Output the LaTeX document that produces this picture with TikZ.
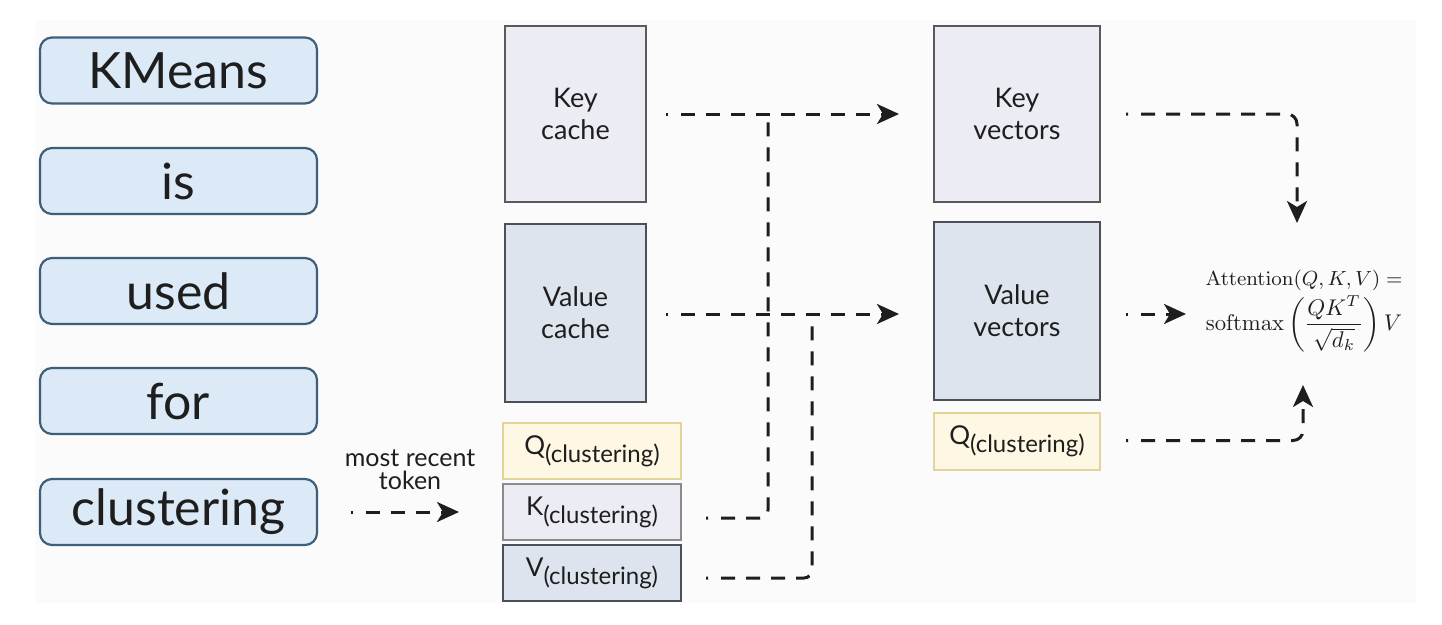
\documentclass[tikz,border=0pt]{standalone}
\usepackage[no-math]{fontspec}
\setmainfont{Lato}
\usetikzlibrary{arrows.meta}
\definecolor{wordfill}{HTML}{DCE9F6}
\definecolor{worddraw}{HTML}{3F5F78}
\definecolor{kfill}{HTML}{ECECF5}
\definecolor{kdraw}{HTML}{5A5A5E}
\definecolor{vfill}{HTML}{DEE4ED}
\definecolor{vdraw}{HTML}{4A4F58}
\definecolor{qfill}{HTML}{FDF7E3}
\definecolor{qdraw}{HTML}{E2D59A}
\definecolor{ink}{HTML}{1E1E1E}
\definecolor{panel}{HTML}{FBFBFC}
\tikzset{
  wordbox/.style={draw=worddraw, fill=wordfill, line width=2.2pt, rounded corners=12pt,
    minimum width=277pt, minimum height=66pt, font=\fontsize{50}{54}\selectfont, text=ink},
  kbox/.style={draw=kdraw, fill=kfill, line width=2pt, font=\fontsize{27}{32}\selectfont, align=center, text=ink},
  vbox/.style={draw=vdraw, fill=vfill, line width=2pt, font=\fontsize{27}{32}\selectfont, align=center, text=ink},
  qbox/.style={draw=qdraw, fill=qfill, line width=2pt, text=ink},
  dl/.style={draw=ink, line width=3pt,
    dash pattern=on 2pt off 13pt on 14pt off 11pt on 14pt off 11pt on 14pt off 11pt on 14pt off 11pt on 14pt off 11pt on 14pt off 11pt on 14pt off 11pt on 14pt off 11pt on 14pt off 11pt on 14pt off 11pt on 14pt off 11pt on 14pt off 11pt on 14pt off 11pt on 14pt off 11pt on 14pt off 11pt on 14pt off 11pt on 14pt off 11pt on 14pt off 11pt on 14pt off 11pt on 14pt off 11pt},
  arr/.style={dl, -{Stealth[length=22pt,width=20pt,inset=6pt]}},
}
\newcommand{\qsub}[1]{{\fontsize{26}{28}\selectfont #1}\raisebox{-8pt}{\fontsize{24}{26}\selectfont (clustering)}}
\begin{document}
\begin{tikzpicture}[x=1pt,y=-1pt]
\useasboundingbox[fill=white] (0,0) rectangle (1442,624);
\fill[panel] (35,20) rectangle (1416,603);
% word boxes
\node[wordbox] (w1) at (178.5,70.5) {KMeans};
\node[wordbox] (w2) at (178.5,181) {is};
\node[wordbox] (w3) at (178.5,291) {used};
\node[wordbox] (w4) at (178.5,401) {for};
\node[wordbox] (w5) at (178.5,512) {clustering};
% caches
\node[kbox, minimum width=141pt, minimum height=176pt] (kc) at (575.5,114) {Key\\cache};
\node[vbox, minimum width=141pt, minimum height=178pt] (vc) at (575.5,313) {Value\\cache};
\node[qbox, minimum width=178pt, minimum height=56pt] (qcl) at (592,451) {\qsub{Q}};
\node[kbox, draw=kdraw!70, minimum width=178pt, minimum height=56pt] (kcl) at (592,512) {\qsub{K}};
\node[vbox, minimum width=178pt, minimum height=56pt] (vcl) at (592,573) {\qsub{V}};
% vectors
\node[kbox, minimum width=166pt, minimum height=176pt] (kv) at (1017,114) {Key\\vectors};
\node[vbox, minimum width=166pt, minimum height=178pt] (vv) at (1017,311) {Value\\vectors};
\node[qbox, minimum width=166pt, minimum height=57pt] (qr) at (1017,441.5) {\qsub{Q}};
% formula
\node[align=center, text=ink, inner sep=0pt, scale=2.27] (att) at (1304,311) {%
  {\small $\mathrm{Attention}(Q,K,V)=$}\\[1.5pt]
  {\normalsize $\displaystyle\mathrm{softmax}\left(\frac{QK^T}{\sqrt{d_k}}\right)V$}};
\coordinate (fTop) at (1297,223);
\coordinate (fLeft) at (1186,314);
\coordinate (fBot) at (1303,385);
\coordinate (jk) at (768,114);
\coordinate (jv) at (812,314);
% connectors
\draw[arr, shorten <=33pt, shorten >=43pt] (w5) -- node[above=17pt, align=center, font=\fontsize{25}{23}\selectfont, text=ink] {most recent\\token} (kcl);
\draw[arr] ([xshift=19pt]kc.east) -- ([xshift=-34pt]kv.west);
\draw[arr] ([xshift=19pt,yshift=-1pt]vc.east) -- ([xshift=-34pt,yshift=-3pt]vv.west);
\draw[dl, rounded corners=8pt] ([xshift=24pt,yshift=-6pt]kcl.east) -| (jk);
\draw[dl, rounded corners=8pt] ([xshift=24pt,yshift=-5pt]vcl.east) -| (jv);
\draw[arr, rounded corners=10pt] ([xshift=25pt]kv.east) -| (fTop);
\draw[arr] ([xshift=25pt,yshift=-3pt]vv.east) -- (fLeft);
\draw[arr, rounded corners=10pt] ([xshift=25pt,yshift=1pt]qr.east) -| (fBot);
\end{tikzpicture}
\end{document}
